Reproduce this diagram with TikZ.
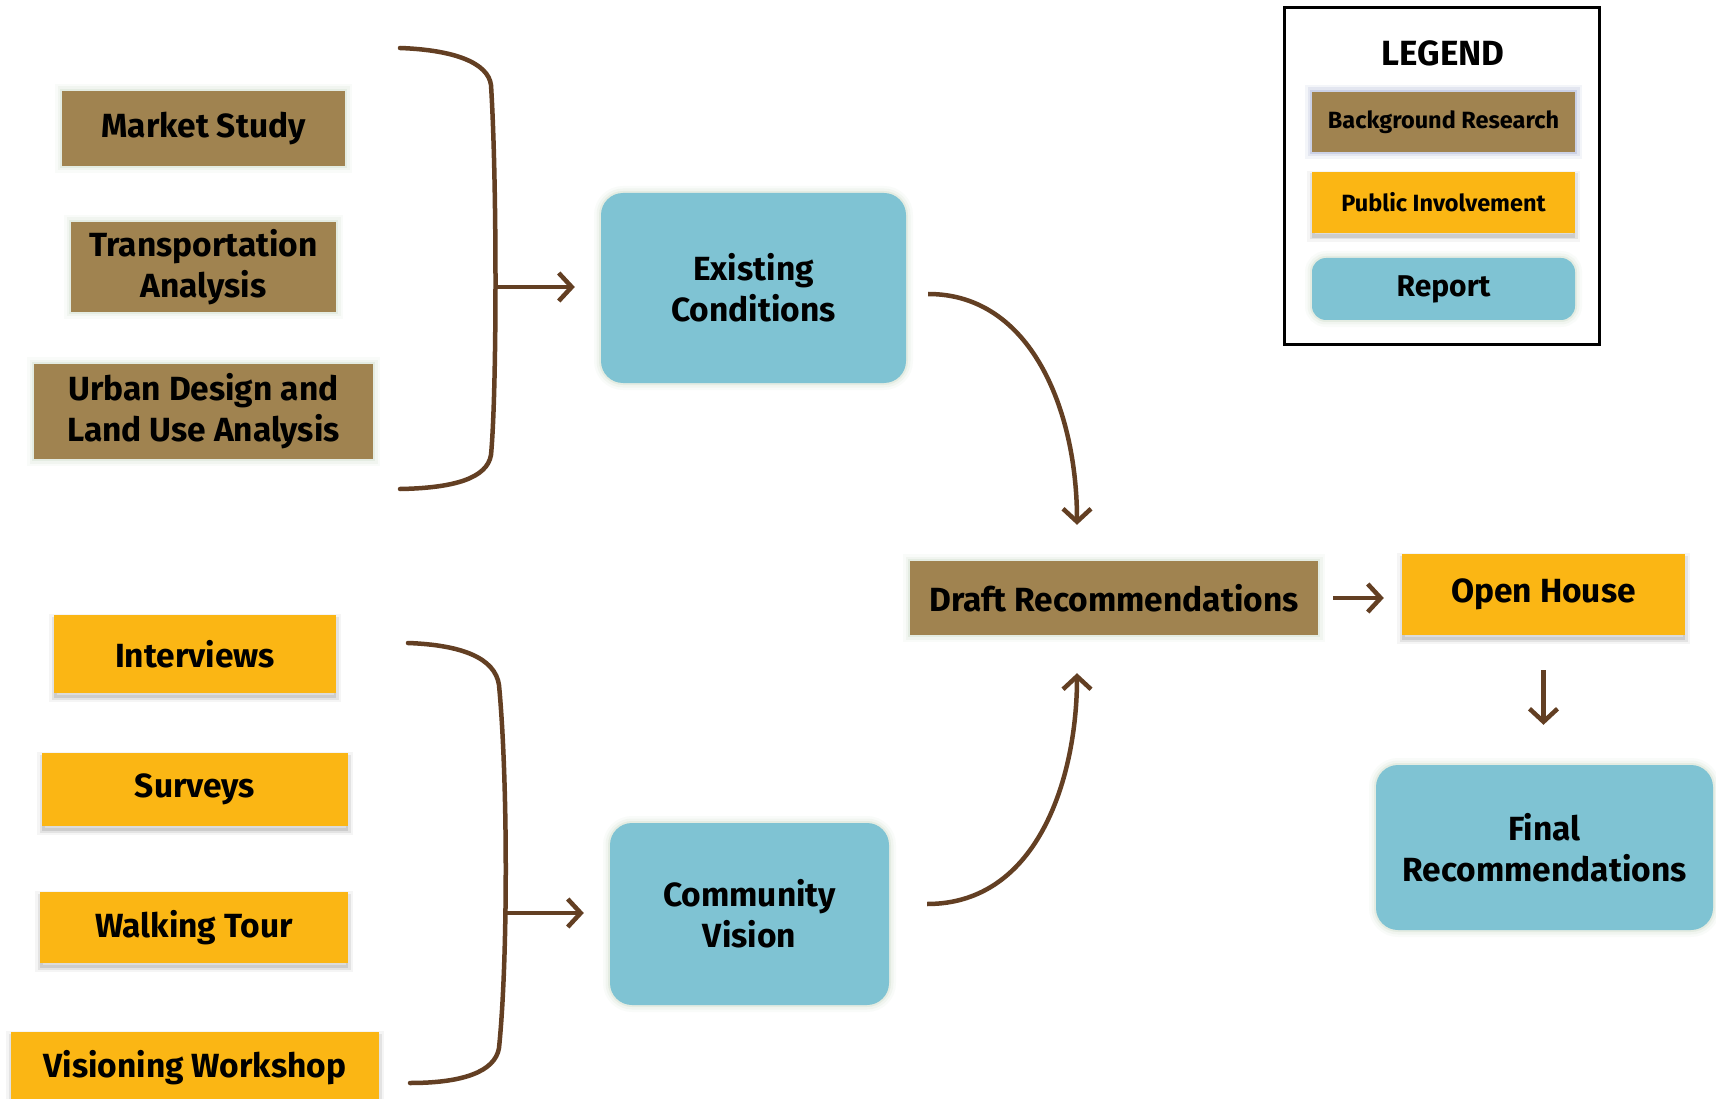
\documentclass[tikz,border=0pt]{standalone}
\usepackage{fontspec}
\setmainfont{Fira Sans}
\usetikzlibrary{arrows.meta,calc}
\definecolor{bgbrown}{RGB}{160,131,80}
\definecolor{pubor}{RGB}{251,182,20}
\definecolor{repblue}{RGB}{127,195,211}
\definecolor{arrbrown}{RGB}{99,63,35}
\definecolor{glowc}{RGB}{120,160,110}
\tikzset{
  glow/.style={preaction={draw=#1, line width=14pt, opacity=0.04},
               preaction={draw=#1, line width=9pt, opacity=0.06},
               preaction={draw=#1, line width=4pt, opacity=0.10}},
  dshadow/.style={preaction={fill=black, opacity=0.10, transform canvas={yshift=-5pt}},
                  preaction={draw=black, line width=10pt, opacity=0.04, transform canvas={yshift=-4pt}},
                  preaction={draw=black, line width=5pt, opacity=0.07, transform canvas={yshift=-4pt}}},
  box/.style={inner sep=0pt, align=center, text=black, font=\bfseries\fontsize{33.5}{41}\selectfont},
  bgbox/.style={box, rectangle, fill=bgbrown, glow=glowc},
  pubbox/.style={box, rectangle, fill=pubor, dshadow},
  repbox/.style={box, rectangle, rounded corners=22pt, fill=repblue, glow=glowc},
  conn/.style={draw=arrbrown, line width=4.5pt, -{Straight Barb[length=13pt,width=28pt]}},
  bracepath/.style={draw=arrbrown, line width=4.5pt, line cap=round},
}
\begin{document}
\begin{tikzpicture}[x=1pt,y=-1pt]
\useasboundingbox (0,0) rectangle (1716,1099);
\clip (0,0) rectangle (1716,1099);
\fill[white] (0,0) rectangle (1716,1099);

% background research
\node[bgbox, minimum width=283pt, minimum height=75pt] (ms) at (203.5,128.5) {Market Study};
\node[bgbox, minimum width=265pt, minimum height=90pt] (ta) at (203.5,267) {Transportation\\Analysis};
\node[bgbox, minimum width=339pt, minimum height=95pt] (ud) at (203.5,411.5) {Urban Design and\\Land Use Analysis};

% public involvement
\node[pubbox, minimum width=282pt, minimum height=78pt] (iv) at (195,654) {Interviews};
\node[pubbox, minimum width=306pt, minimum height=73pt] (sv) at (195,789.5) {Surveys};
\node[pubbox, minimum width=308pt, minimum height=71pt] (wt) at (194,927.5) {Walking Tour};
\node[pubbox, minimum width=368pt, minimum height=72pt] (vw) at (195,1068) {Visioning Workshop};

% reports
\node[repbox, minimum width=305pt, minimum height=190pt] (ec) at (753.5,288) {Existing\\Conditions};
\node[repbox, minimum width=279pt, minimum height=182pt] (cv) at (749.5,914) {Community\\Vision};
\node[repbox, minimum width=337pt, minimum height=165pt] (fr) at (1544.5,847.5) {Final\\Recommendations};

\node[bgbox, minimum width=408pt, minimum height=74pt] (dr) at (1114,598) {Draft Recommendations};
\node[pubbox, minimum width=283pt, minimum height=81pt] (oh) at (1543.5,594.5) {Open House};

% braces
\draw[bracepath] (400,48) .. controls (455,50) and (488,63) .. (491,85)
  .. controls (497,180) and (497,390) .. (491,455)
  .. controls (487,478) and (455,488) .. (400,489);
\coordinate (b1) at (496,287);
\draw[bracepath] (408,643) .. controls (462,645) and (495,658) .. (499,685)
  .. controls (508,780) and (508,960) .. (499,1048)
  .. controls (495,1072) and (462,1083) .. (410,1083);
\coordinate (b2) at (506,913);

% connectors
\draw[conn, shorten >=26pt] (b1) -- (b1 -| ec.west);
\draw[conn, shorten >=26pt] (b2) -- (b2 -| cv.west);
\coordinate (dtop) at ($(dr.north)+(-37,0)$);
\coordinate (dbot) at ($(dr.south)+(-37,0)$);
\coordinate (ecout) at ($(ec.east)+(0,6)$);
\coordinate (cvout) at ($(cv.east)+(0,-10)$);
\draw[conn, shorten <=22pt, shorten >=36pt] (ecout) .. controls +(125,0) and +(0,-150) .. (dtop);
\draw[conn, shorten <=38pt, shorten >=38pt] (cvout) .. controls +(150,0) and +(0,140) .. (dbot);
\draw[conn, shorten <=15pt, shorten >=18pt] (dr.east) -- (dr.east -| oh.west);
\draw[conn, shorten <=35pt, shorten >=40pt] (oh.south) -- (oh.south |- fr.north);

% legend
\node[draw=black, line width=3pt, minimum width=315pt, minimum height=336pt, inner sep=0pt] (lg) at (1441.5,176) {};
\node[font=\bfseries\fontsize{35}{40}\selectfont] (lgt) at (1443,53) {LEGEND};
\node[bgbox, minimum width=263pt, minimum height=60pt, font=\bfseries\fontsize{23.5}{28}\selectfont, glow=blue!60!white] (l1) at (1443.5,122) {Background Research};
\node[pubbox, minimum width=263pt, minimum height=61pt, font=\bfseries\fontsize{23.5}{28}\selectfont] (l2) at (1443.5,202.5) {Public Involvement};
\node[repbox, rounded corners=14pt, minimum width=263pt, minimum height=62pt, font=\bfseries\fontsize{30}{34}\selectfont] (l3) at (1443.5,289) {Report};
\end{tikzpicture}
\end{document}
